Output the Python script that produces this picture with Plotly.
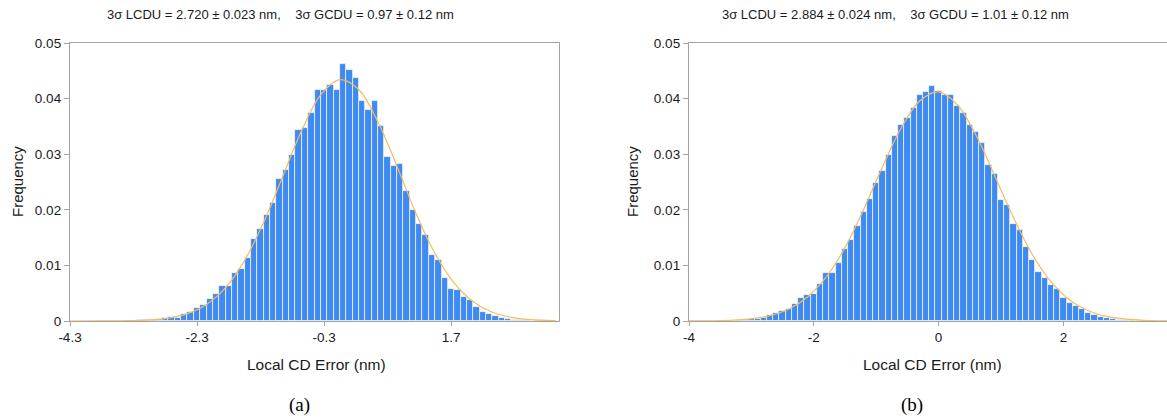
import plotly.graph_objects as go

# ---------------- data ----------------
left_centers = [-3.4, -3.3, -3.2, -3.1, -3.0, -2.9, -2.8, -2.7, -2.6, -2.5, -2.4, -2.3, -2.2, -2.1,
                -2.0, -1.9, -1.8, -1.7, -1.6, -1.5, -1.4, -1.3, -1.2, -1.1, -1.0, -0.9, -0.8, -0.7,
                -0.6, -0.5, -0.4, -0.3, -0.2, -0.1, 0.0, 0.1, 0.2, 0.3, 0.4, 0.5, 0.6, 0.7, 0.8,
                0.9, 1.0, 1.1, 1.2, 1.3, 1.4, 1.5, 1.6, 1.7, 1.8, 1.9, 2.0, 2.1, 2.2, 2.3, 2.4,
                2.5, 2.6, 2.7, 2.8, 2.9, 3.0]
left_freq = [0.00003, 0.00005, 0.0001, 0.00012, 0.00024, 0.0003, 0.00048, 0.00072, 0.00054, 0.00126,
             0.0017, 0.0024, 0.0029, 0.0039, 0.0048, 0.0063, 0.0063, 0.0086, 0.0093, 0.0113,
             0.0148, 0.0166, 0.0190, 0.0213, 0.0256, 0.0271, 0.0299, 0.0344, 0.0347, 0.0375,
             0.0415, 0.0415, 0.0425, 0.0415, 0.0463, 0.0451, 0.0437, 0.0395, 0.0379, 0.0395,
             0.0351, 0.0295, 0.0278, 0.0283, 0.0234, 0.0199, 0.0175, 0.0155, 0.0118, 0.0109,
             0.0077, 0.0057, 0.0056, 0.0043, 0.0038, 0.0025, 0.0017, 0.0013, 0.0009, 0.0006,
             0.0004, 0.00025, 0.00015, 0.0001, 0.00005]
left_fit_x = [-4.35, -3.85, -3.35, -3.05, -2.75, -2.45, -2.15, -1.85, -1.55, -1.25, -0.95, -0.65,
              -0.35, -0.05, 0.25, 0.55, 0.85, 1.15, 1.45, 1.75, 2.05, 2.35, 2.65, 2.95, 3.35]
left_fit_y = [0.0000007, 0.0000075, 0.000062, 0.00019, 0.00053, 0.00133, 0.00298, 0.00599, 0.0109,
              0.01775, 0.0260, 0.0343, 0.0407, 0.0434, 0.0416, 0.0358, 0.0278, 0.0193, 0.0121,
              0.00683, 0.00345, 0.00157, 0.00064, 0.00024, 0.00005]

right_centers = [-3.9, -3.8, -3.7, -3.6, -3.5, -3.4, -3.3, -3.2, -3.1, -3.0, -2.9, -2.8, -2.7, -2.6,
                 -2.5, -2.4, -2.3, -2.2, -2.1, -2.0, -1.9, -1.8, -1.7, -1.6, -1.5, -1.4, -1.3, -1.2,
                 -1.1, -1.0, -0.9, -0.8, -0.7, -0.6, -0.5, -0.4, -0.3, -0.2, -0.1, 0.0, 0.1, 0.2,
                 0.3, 0.4, 0.5, 0.6, 0.7, 0.8, 0.9, 1.0, 1.1, 1.2, 1.3, 1.4, 1.5, 1.6, 1.7, 1.8,
                 1.9, 2.0, 2.1, 2.2, 2.3, 2.4, 2.5, 2.6, 2.7, 2.8, 2.9, 3.0, 3.1, 3.2, 3.3, 3.4]
right_freq = [0.00005, 0.00001, 0.00002, 0.00002, 0.00003, 0.00005, 0.00008, 0.00012, 0.0002, 0.0003,
              0.0004, 0.0006, 0.0011, 0.0014, 0.0018, 0.0022, 0.0030, 0.0042, 0.0046, 0.0048,
              0.0067, 0.0087, 0.0087, 0.0104, 0.0129, 0.0146, 0.0170, 0.0196, 0.0220, 0.0249,
              0.0270, 0.0299, 0.0332, 0.0353, 0.0366, 0.0383, 0.0406, 0.0411, 0.0422, 0.0413,
              0.0407, 0.0406, 0.0386, 0.0375, 0.0353, 0.0340, 0.0321, 0.0281, 0.0265, 0.0217,
              0.0208, 0.0175, 0.0163, 0.0133, 0.0110, 0.0089, 0.0077, 0.0065, 0.0057, 0.0042,
              0.0033, 0.0027, 0.0021, 0.0015, 0.0011, 0.0007, 0.0005, 0.0003, 0.0002, 0.00012,
              0.0001, 0.00005, 0.00004, 0.00002]
right_fit_x = [-4.0, -3.5, -3.0, -2.7, -2.4, -2.1, -1.8, -1.5, -1.2, -0.9, -0.6, -0.3, 0.0, 0.3,
               0.6, 0.9, 1.2, 1.5, 1.8, 2.1, 2.4, 2.7, 3.0, 3.3, 3.7]
right_fit_y = [0.00001, 0.000073, 0.0004, 0.00097, 0.00215, 0.00433, 0.00793, 0.0132, 0.0201,
               0.0277, 0.0347, 0.0396, 0.0412, 0.0389, 0.0334, 0.0261, 0.0186, 0.0120, 0.00708,
               0.00379, 0.00185, 0.00082, 0.00033, 0.00012, 0.000027]

y_ticks = [0, 0.01, 0.02, 0.03, 0.04, 0.05]
y_ticklabels = ["0", "0.01", "0.02", "0.03", "0.04", "0.05"]
left_xticks = [-4.3, -2.3, -0.3, 1.7]
left_xticklabels = ["-4.3", "-2.3", "-0.3", "1.7"]
right_xticks = [-4, -2, 0, 2]
right_xticklabels = ["-4", "-2", "0", "2"]

title_left = "3σ LCDU = 2.720 ± 0.023 nm,\u00a0\u00a0\u00a0\u00a03σ GCDU = 0.97 ± 0.12 nm"
title_right = "3σ LCDU = 2.884 ± 0.024 nm,\u00a0\u00a0\u00a0\u00a03σ GCDU = 1.01 ± 0.12 nm"
x_title = "Local CD Error (nm)"
y_title = "Frequency"
panel_labels = ["(a)", "(b)"]

# ---------------- figure ----------------
W, H = 1167, 419
BAR = "#3f8af0"
FIT = "#f8bb5c"
AX = "#a3a3a3"
FONT = "Liberation Sans, Arial, sans-serif"

def px(x):
    return x / W

def py(y):
    return 1 - y / H

fig = go.Figure()
fig.add_trace(go.Bar(x=left_centers, y=left_freq, width=0.1, marker=dict(color=BAR, line=dict(color="rgba(255,255,255,0.85)", width=0.8)),
                     xaxis="x", yaxis="y", showlegend=False))
fig.add_trace(go.Scatter(x=left_fit_x, y=left_fit_y, mode="lines", line=dict(color=FIT, width=1.2, shape="spline"),
                         xaxis="x", yaxis="y", showlegend=False))
fig.add_trace(go.Bar(x=right_centers, y=right_freq, width=0.1, marker=dict(color=BAR, line=dict(color="rgba(255,255,255,0.85)", width=0.8)),
                     xaxis="x2", yaxis="y2", showlegend=False))
fig.add_trace(go.Scatter(x=right_fit_x, y=right_fit_y, mode="lines", line=dict(color=FIT, width=1.2, shape="spline"),
                         xaxis="x2", yaxis="y2", showlegend=False))

ydom = [py(321), py(43)]
common_y = dict(range=[0, 0.05], tickvals=y_ticks, ticktext=y_ticklabels, showgrid=False, zeroline=False,
                showline=True, linecolor=AX, linewidth=1.3, ticks="outside", ticklen=5, tickcolor=AX,
                tickfont=dict(family=FONT, size=13.5, color="#1a1a1a"), domain=ydom, automargin=False)
common_x = dict(showgrid=False, zeroline=False, showline=True, linecolor=AX, linewidth=1.3,
                ticks="outside", ticklen=4, tickcolor=AX, tickfont=dict(family=FONT, size=13.5, color="#1a1a1a"),
                automargin=False)

fig.update_layout(
    width=W, height=H, margin=dict(l=0, r=0, t=0, b=0, pad=0, autoexpand=False),
    paper_bgcolor="white", plot_bgcolor="white", bargap=0,
    xaxis=dict(common_x, domain=[px(70), px(559)], range=[-4.3, 3.4], tickvals=left_xticks,
               ticktext=left_xticklabels, mirror=True, anchor="y"),
    yaxis=dict(common_y, mirror=True, anchor="x"),
    xaxis2=dict(common_x, domain=[px(689), 1.0], range=[-4.0, 3.66], tickvals=right_xticks,
                ticktext=right_xticklabels, mirror=True, anchor="y2"),
    yaxis2=dict(common_y, mirror=False, anchor="x2"),
)

ann = []
def A(text, x, y, size, family=FONT, angle=0, color="#1a1a1a"):
    ann.append(dict(text=text, x=px(x), y=py(y), xref="paper", yref="paper", showarrow=False,
                    xanchor="center", yanchor="middle", textangle=angle,
                    font=dict(family=family, size=size, color=color)))

A(title_left, 280, 14, 13)
A(title_right, 895, 14, 13)
A(y_title, 17, 182, 15, angle=-90)
A(y_title, 632, 182, 15, angle=-90)
A(x_title, 316, 364, 15.5)
A(x_title, 932, 364, 15.5)
A(panel_labels[0], 299, 405, 19, family="Liberation Serif, Times New Roman, serif", color="#000")
A(panel_labels[1], 912, 405, 19, family="Liberation Serif, Times New Roman, serif", color="#000")
fig.update_layout(annotations=ann)

fig.write_html("out.html")
